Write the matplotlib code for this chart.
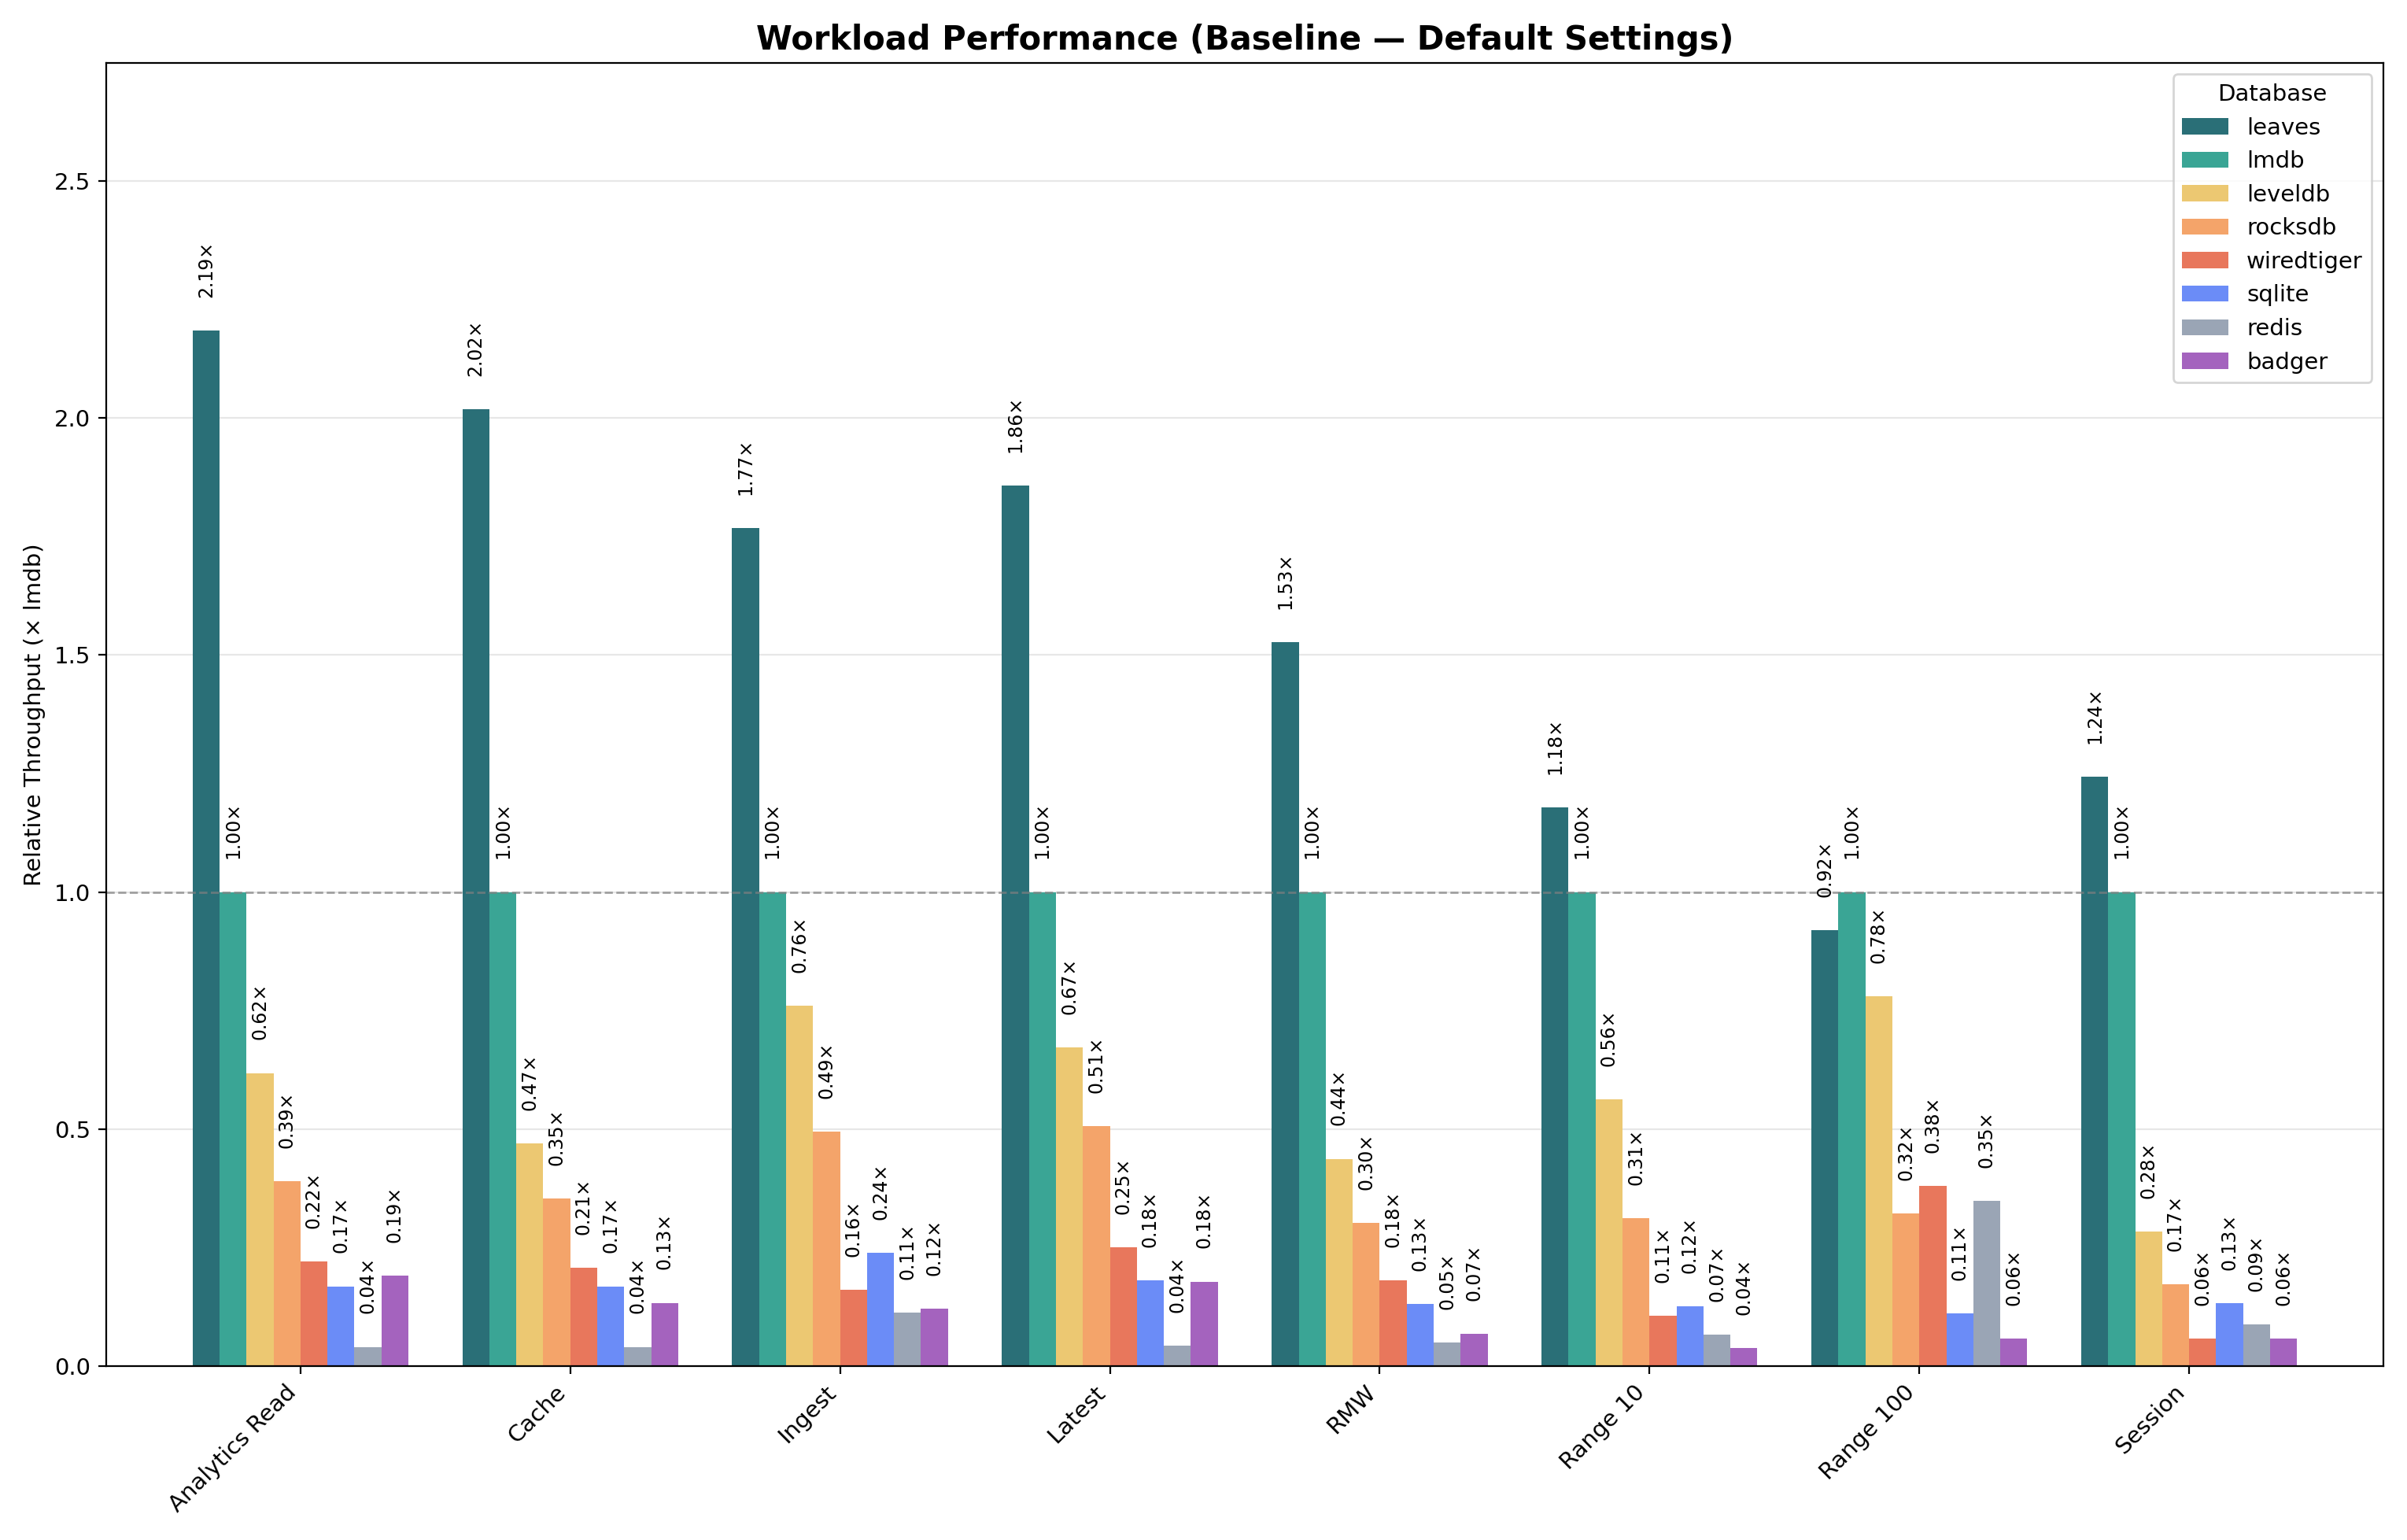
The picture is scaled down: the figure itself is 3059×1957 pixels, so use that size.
import matplotlib
matplotlib.use("Agg")
import matplotlib.pyplot as plt
import numpy as np

categories = ["Analytics Read", "Cache", "Ingest", "Latest", "RMW", "Range 10", "Range 100", "Session"]
databases = ["leaves", "lmdb", "leveldb", "rocksdb", "wiredtiger", "sqlite", "redis", "badger"]
leaves = [2.185, 2.018, 1.768, 1.857, 1.527, 1.178, 0.920, 1.243]
lmdb = [1.00, 1.00, 1.00, 1.00, 1.00, 1.00, 1.00, 1.00]
leveldb = [0.618, 0.470, 0.760, 0.672, 0.437, 0.563, 0.780, 0.283]
rocksdb = [0.390, 0.353, 0.494, 0.506, 0.302, 0.311, 0.322, 0.172]
wiredtiger = [0.220, 0.207, 0.160, 0.250, 0.181, 0.106, 0.380, 0.058]
sqlite = [0.168, 0.168, 0.238, 0.180, 0.130, 0.125, 0.110, 0.132]
redis = [0.040, 0.040, 0.112, 0.043, 0.049, 0.066, 0.348, 0.087]
badger = [0.190, 0.133, 0.120, 0.178, 0.068, 0.037, 0.058, 0.058]
series = [leaves, lmdb, leveldb, rocksdb, wiredtiger, sqlite, redis, badger]
colors = ["#2a6f77", "#3aa595", "#ecc872", "#f4a46a", "#e8775c", "#6b8cf7", "#9aa5b5", "#a463be"]

fig, ax = plt.subplots(figsize=(15.295, 9.785), dpi=200)
x = np.arange(len(categories))
w = 0.1
for i, (name, vals, c) in enumerate(zip(databases, series, colors)):
    pos = x + (i - 3.5) * w
    ax.bar(pos, vals, w, color=c, label=name)
    for p, v in zip(pos, vals):
        ax.text(p, v + 0.07, f"{v:.2f}×", rotation=90, ha="center", va="bottom", fontsize=8.5)

ax.axhline(1.0, color="gray", linestyle="--", linewidth=1, alpha=0.7)
ax.set_xticks(x)
ax.set_xticklabels(categories, rotation=45, ha="right", fontsize=10.5)
ax.tick_params(axis="y", labelsize=10.5)
ax.set_ylim(0, 2.75)
ax.set_xlim(-0.72, 7.72)
ax.set_ylabel("Relative Throughput (× lmdb)", fontsize=10.5)
ax.set_title("Workload Performance (Baseline — Default Settings)", fontsize=15, fontweight="bold")
ax.yaxis.grid(True, alpha=0.3)
ax.set_axisbelow(True)
ax.legend(title="Database", loc="upper right", fontsize=10.5, title_fontsize=10.5)
fig.tight_layout()
fig.savefig("out.png")
